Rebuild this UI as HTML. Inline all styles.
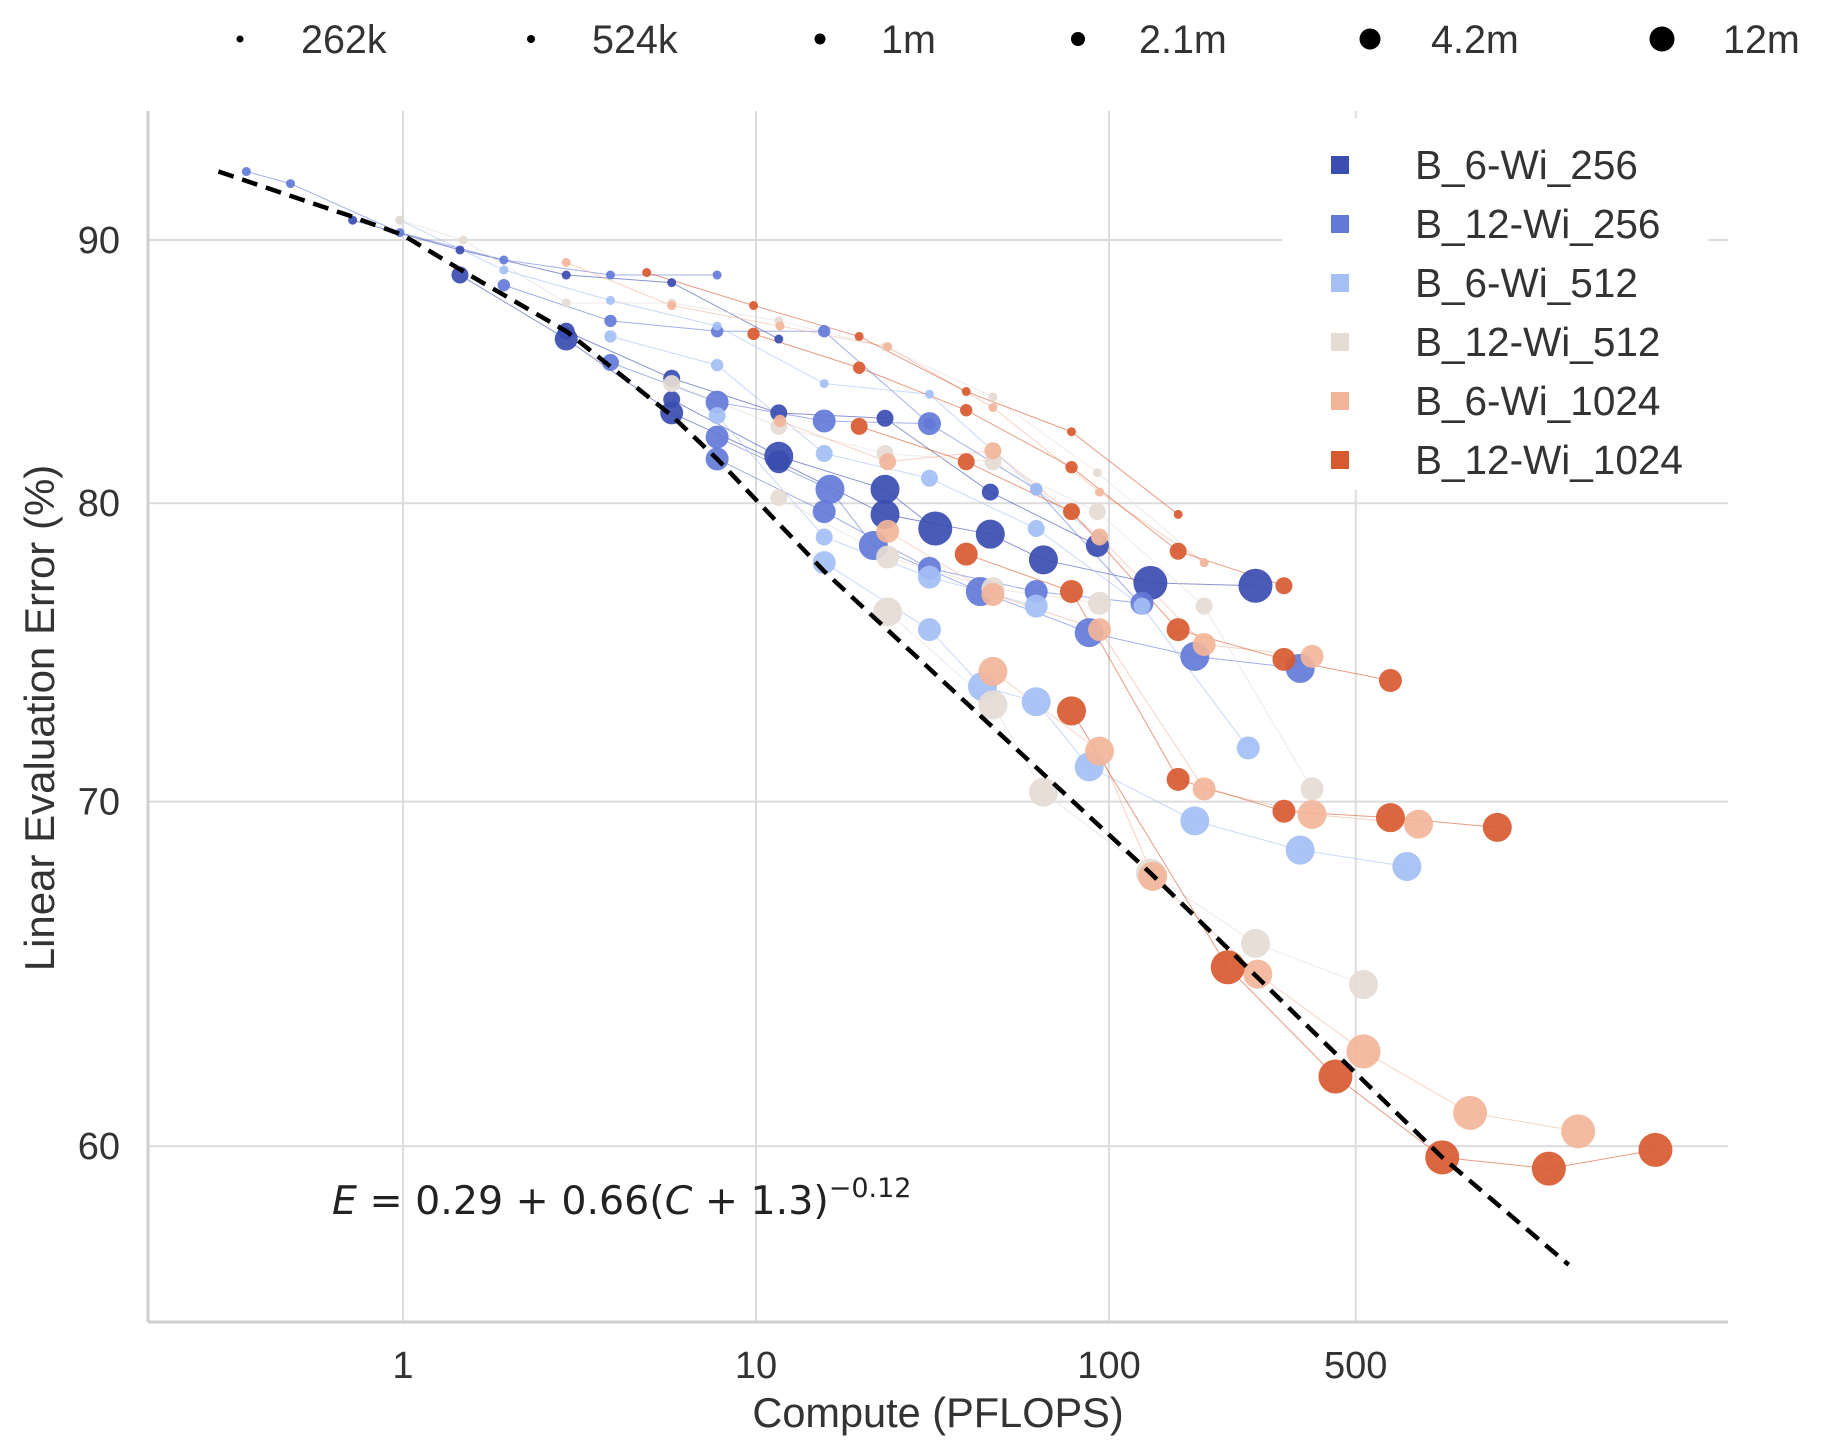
<!DOCTYPE html>
<html><head><meta charset="utf-8"><style>
html,body{margin:0;padding:0;background:#fff;}
svg{display:block;font-family:"Liberation Sans",sans-serif;}
</style></head><body>
<svg id="chart" width="1838" height="1452" viewBox="0 0 1838 1452" xmlns="http://www.w3.org/2000/svg">
<g id="grid"></g>
<g id="series"></g>
<g id="fit"></g>
<rect x="1282" y="118" width="426" height="372" fill="#fff"/>
<g id="legend"></g>
<g id="sizelegend"></g>
<g id="axes"></g>
<text x="332" y="1214" font-size="39.5" fill="#222" font-family="'DejaVu Sans',sans-serif"><tspan font-style="italic">E</tspan> = 0.29 + 0.66(<tspan font-style="italic">C</tspan> + 1.3)<tspan dy="-17" font-size="27">−0.12</tspan></text>
<text x="938" y="1427" font-size="41.5" fill="#333" text-anchor="middle">Compute (PFLOPS)</text>
<text transform="translate(54,718) rotate(-90)" font-size="42" fill="#333" text-anchor="middle">Linear Evaluation Error (%)</text>
</svg>
<script>
const xTicks=[1,10,100,500];
const xTickLabels=["1","10","100","500"];
const yTicks=[60,70,80,90];
const yTickLabels=["60","70","80","90"];
const models=["B_6-Wi_256","B_12-Wi_256","B_6-Wi_512","B_12-Wi_512","B_6-Wi_1024","B_12-Wi_1024"];
const modelColors=["#3a4db0","#6379d8","#a4bff5","#e5dcd4","#f2b59a","#d85a30"];
const sizeLabels=["262k","524k","1m","2.1m","4.2m","12m"];
const fitC=[0.30,0.7,1,1.5,2.9,5.77,7.76,15.6,131,879,2005];
const fitE=[92.8,91.0,90.2,88.7,86.4,83.2,81.6,77.6,67.8,59.7,56.9];
const runModel=[0,0,0,0,1,1,1,1,1,2,2,2,2,3,3,3,3,4,4,4,4,5,5,5,5,5];
const runC=[
[0.72,1.45,2.9,5.77,11.6],
[1.45,2.9,5.77,11.6,23.2,46.1,65.2,131,260],
[2.9,5.77,11.6,23.2,46.1,92.7],
[5.77,11.6,23.2,32.2],
[0.36,0.48,0.98,1.93,3.87,7.76],
[1.93,3.87,7.76,15.6,31,62.2,124],
[3.87,7.76,15.6,31],
[7.76,16.2,21.5,43.2,87.9,175,348],
[7.76,15.6,31,62.2,124],
[0.98,1.93,3.87,7.76,15.6,31,62.2,92.7],
[3.87,7.76,15.6,31,62.2,124,248],
[7.76,15.6,31,62.2],
[15.6,31,43.8,62.2,87.9,175,348,698],
[0.98,1.48,2.9,5.77,11.6,23.2,46.9,92.7,186],
[5.77,11.6,23.2,46.9,92.7,186,376],
[11.6,23.6,46.9,94],
[23.6,46.9,65.2,131,260,526],
[2.9,5.77,11.7,23.6,46.9,94,186],
[11.7,23.6,46.9,94,186,376],
[23.6,46.9,94,186,376,753],
[46.9,94,133,264,526,1054,2133],
[4.9,9.84,19.6,39.4,78.3,157],
[9.84,19.6,39.4,78.3,157,313],
[19.6,39.4,78.3,157,313,627],
[39.4,78.3,157,313,627,1259],
[78.3,217,438,879,1762,3532]
];
const runE=[
[90.8,89.6,88.6,88.3,86.1],
[88.6,86.1,83.3,81.5,79.6,78.9,78.0,77.2,77.1],
[86.4,84.6,83.3,83.1,80.4,78.5],
[83.8,81.7,80.5,79.1],
[92.8,92.3,90.3,89.2,88.6,88.6],
[88.2,86.8,86.4,86.4,82.9,80.5,76.4],
[85.2,83.7,83.0,82.9],
[82.4,80.5,78.5,76.9,75.5,74.7,74.3],
[81.6,79.7,77.7,76.9,76.5],
[90.8,88.8,87.6,86.6,84.4,84.0,80.5,78.8],
[86.2,85.1,81.8,80.9,79.1,76.4,71.7],
[83.2,78.8,77.4,76.4],
[77.9,75.6,73.7,73.2,71.1,69.4,68.5,68.0],
[90.8,90.0,87.5,87.5,86.8,85.8,83.9,81.1,77.9],
[84.4,82.8,81.8,81.5,79.7,76.4,70.4],
[80.2,78.1,77.0,76.5],
[76.2,73.1,70.3,67.8,65.7,64.5],
[89.1,87.4,86.6,85.8,83.5,80.4,77.9],
[83.0,81.5,81.9,78.8,75.1,74.7],
[79.0,76.8,75.6,70.4,69.6,69.3],
[74.2,71.6,67.7,64.8,62.6,60.9,60.4],
[88.7,87.4,86.2,84.1,82.6,79.6],
[86.3,85.0,83.4,81.3,78.3,77.1],
[82.8,81.5,79.7,75.6,74.6,73.9],
[78.2,76.9,70.7,69.7,69.5,69.2],
[72.9,65.0,61.9,59.7,59.4,59.9]
];
const runSize=[
[0,0,0,0,0],
[2,3,3,3,4,4,4,5,5],
[2,2,2,2,2,3],
[2,4,4,5],
[0,0,0,0,0,0],
[1,1,1,1,1,1,2],
[2,3,3,3],
[3,4,4,4,4,4,4],
[3,3,3,3,3],
[0,0,0,0,0,0,1,1],
[1,1,2,2,2,2,3],
[2,2,3,3],
[3,3,4,4,4,4,4,4],
[0,0,0,0,0,0,0,0,0],
[2,2,2,2,2,2,3],
[2,3,3,3],
[4,4,4,4,4,4],
[0,0,0,0,0,0,0],
[1,2,2,2,3,3],
[3,3,3,3,4,4],
[4,4,4,4,5,5,5],
[0,0,0,0,0,0],
[1,1,1,1,2,2],
[2,2,2,3,3,3],
[3,3,3,3,4,4],
[4,5,5,5,5,5]
];
const NS="http://www.w3.org/2000/svg";
const X0=148,X1=1728,Y0=111,Y1=1322;
const radii=[4.5,6.2,8.5,11.5,14.5,17];
function xs(c){return 403+353*Math.log10(c);}
function ys(e){return 240+5146*(Math.log10(90)-Math.log10(e));}
function mk(tag,attrs,parent){const el=document.createElementNS(NS,tag);for(const k in attrs)el.setAttribute(k,attrs[k]);parent.appendChild(el);return el;}
const grid=document.getElementById('grid');
yTicks.forEach((t,i)=>{
 const l=mk('line',{x1:X0,x2:X1,y1:ys(t),y2:ys(t),stroke:'#dcdcdc','stroke-width':2},grid);
 
 
 const tx=mk('text',{x:120,y:ys(t)+13,'font-size':38,fill:'#333','text-anchor':'end'},grid);
 tx.textContent=yTickLabels[i];
 
 
});
xTicks.forEach((t,i)=>{
 const l=mk('line',{x1:xs(t),x2:xs(t),y1:Y0,y2:Y1,stroke:'#dcdcdc','stroke-width':2},grid);
 
 
 const tx=mk('text',{x:xs(t),y:1378,'font-size':38,fill:'#333','text-anchor':'middle'},grid);
 tx.textContent=xTickLabels[i];
 
 
});
const axes=document.getElementById('axes');
const ax1=mk('line',{x1:X0,x2:X0,y1:Y0,y2:Y1,stroke:'#cfcfcf','stroke-width':3},axes);


const ax2=mk('line',{x1:X0,x2:X1,y1:Y1,y2:Y1,stroke:'#cfcfcf','stroke-width':3},axes);


const sg=document.getElementById('series');
runC.forEach((cs,r)=>{
 const col=modelColors[runModel[r]];
 const pts=cs.map((c,j)=>xs(c)+','+ys(runE[r][j])).join(' ');
 const pl=mk('polyline',{points:pts,fill:'none',stroke:col,'stroke-width':1,opacity:0.6},sg);
 
 
});
runC.forEach((cs,r)=>{
 const col=modelColors[runModel[r]];
 cs.forEach((c,j)=>{
  const p=mk('circle',{cx:xs(c),cy:ys(runE[r][j]),r:radii[runSize[r][j]],fill:col,opacity:0.92},sg);
  
  
 });
});
const fg=document.getElementById('fit');
const fl=mk('polyline',{points:fitC.map((c,i)=>xs(c)+','+ys(fitE[i])).join(' '),fill:'none',stroke:'#000','stroke-width':4.5,'stroke-dasharray':'16,9'},fg);


const lg=document.getElementById('legend');
models.forEach((m,i)=>{
 const y=165+59*i;
 const s=mk('rect',{x:1331,y:y-9,width:18,height:18,fill:modelColors[i]},lg);
 
 
 const t=mk('text',{x:1415,y:y+14,'font-size':40.5,fill:'#333'},lg);
 t.textContent=m;
 
 
});
const sl=document.getElementById('sizelegend');
const sizeDotR=[3.5,4,5.5,7,10.5,12.5];
const sizeDotX=[240,531,820,1078,1370,1662];
sizeLabels.forEach((s,i)=>{
 const c=mk('circle',{cx:sizeDotX[i],cy:39,r:sizeDotR[i],fill:'#000'},sl);
 
 
 const t=mk('text',{x:sizeDotX[i]+61,y:53,'font-size':39.5,fill:'#333'},sl);
 t.textContent=s;
 
 
});
</script>
</body></html>
